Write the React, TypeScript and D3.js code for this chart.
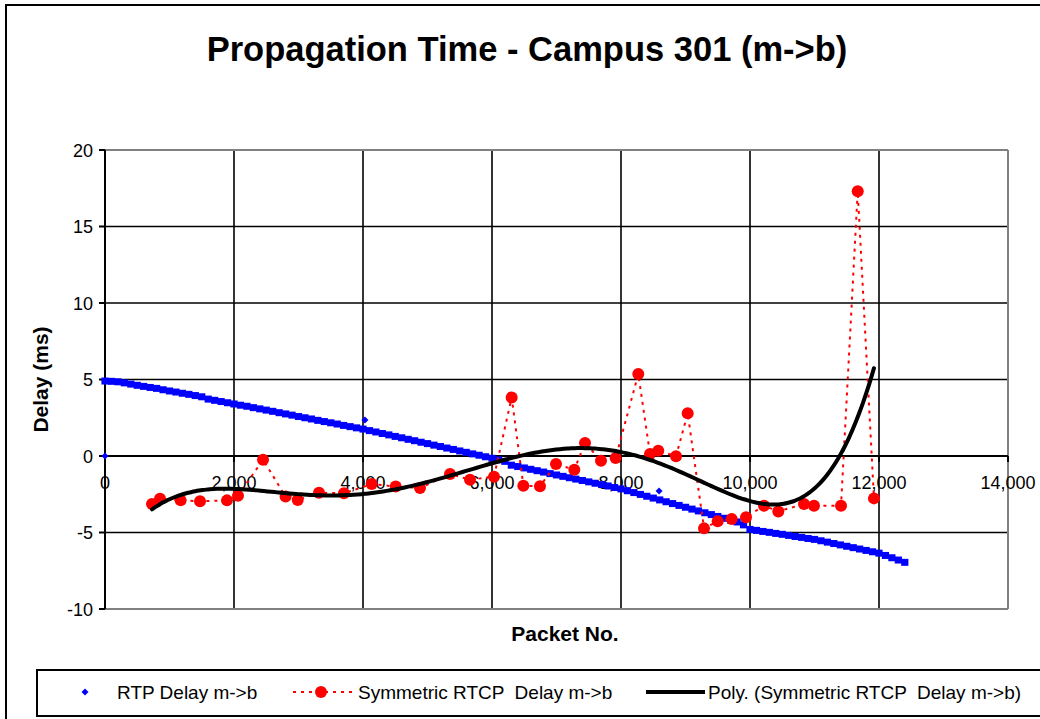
import React from 'react';
import * as d3 from 'd3';

// ---------- DATA ----------
const TITLE = 'Propagation Time - Campus 301 (m->b)';
const X_TICKS = [0, 2000, 4000, 6000, 8000, 10000, 12000, 14000];
const Y_TICKS = [-10, -5, 0, 5, 10, 15, 20];

// RTP delay, one reading every RTP_STEP packets starting at packet 0
const RTP_STEP = 100;
const rtpDelay = [
  4.9, 4.88, 4.85, 4.78, 4.7, 4.62, 4.55, 4.48, 4.42, 4.33,
  4.25, 4.18, 4.1, 4.03, 3.95, 3.87, 3.72, 3.64, 3.56, 3.48,
  3.4, 3.32, 3.25, 3.16, 3.08, 3.0, 2.92, 2.83, 2.75, 2.67,
  2.58, 2.5, 2.42, 2.33, 2.25, 2.17, 2.09, 2.0, 1.92, 1.84,
  1.76, 1.66, 1.57, 1.47, 1.38, 1.28, 1.19, 1.09, 1.0, 0.9,
  0.81, 0.71, 0.62, 0.52, 0.43, 0.33, 0.24, 0.14, 0.05, -0.05,
  -0.15, -0.25, -0.35, -0.6, -0.69, -0.78, -0.87, -0.96, -1.05, -1.15,
  -1.24, -1.33, -1.42, -1.51, -1.6, -1.69, -1.78, -1.87, -1.96, -2.06,
  -2.15, -2.27, -2.39, -2.51, -2.63, -2.75, -2.87, -2.99, -3.11, -3.23,
  -3.35, -3.47, -3.59, -3.71, -3.83, -3.95, -4.07, -4.19, -4.31, -4.5,
  -4.8, -4.86, -4.93, -4.99, -5.06, -5.12, -5.19, -5.26, -5.32, -5.39,
  -5.45, -5.54, -5.63, -5.72, -5.81, -5.9, -5.99, -6.08, -6.17, -6.26,
  -6.35, -6.5, -6.65, -6.8, -6.95,
];
// isolated RTP readings
const rtpOutlierPacket = [0, 4030, 8590];
const rtpOutlierDelay = [0, 2.35, -2.29];

// Symmetric RTCP delay
const rtcpPacket = [
  729, 853, 1173, 1473, 1891, 2062, 2450, 2800, 2988, 3318,
  3705, 4135, 4507, 4884, 5349, 5659, 6031, 6305, 6486, 6744,
  6992, 7276, 7442, 7690, 7917, 8268, 8450, 8578, 8853, 9034,
  9287, 9499, 9716, 9938, 10217, 10439, 10837, 10992, 11411, 11670,
  11922,
];
const rtcpDelay = [
  -3.14, -2.8, -2.9, -2.96, -2.9, -2.6, -0.24, -2.65, -2.88, -2.4,
  -2.44, -1.83, -2.0, -2.09, -1.18, -1.55, -1.35, 3.83, -1.94, -1.98,
  -0.52, -0.9, 0.85, -0.31, -0.13, 5.36, 0.13, 0.35, -0.02, 2.79,
  -4.73, -4.27, -4.12, -4.0, -3.25, -3.62, -3.14, -3.25, -3.25, 17.3,
  -2.77,
];
const POLY_ORDER = 6;

const LEGEND = [
  'RTP Delay m->b',
  'Symmetric RTCP  Delay m->b',
  'Poly. (Symmetric RTCP  Delay m->b)',
];

// ---------- helpers ----------
function polyfit(xs: number[], ys: number[], deg: number, c: number, s: number) {
  const n = deg + 1;
  const A: number[][] = Array.from({ length: n }, () => new Array(n).fill(0));
  const b: number[] = new Array(n).fill(0);
  xs.forEach((x, k) => {
    const t = (x - c) / s;
    const p: number[] = [];
    for (let i = 0; i < n; i++) p.push(Math.pow(t, i));
    for (let i = 0; i < n; i++) {
      b[i] += p[i] * ys[k];
      for (let j = 0; j < n; j++) A[i][j] += p[i] * p[j];
    }
  });
  for (let i = 0; i < n; i++) {
    let piv = i;
    for (let r = i + 1; r < n; r++) if (Math.abs(A[r][i]) > Math.abs(A[piv][i])) piv = r;
    [A[i], A[piv]] = [A[piv], A[i]];
    [b[i], b[piv]] = [b[piv], b[i]];
    for (let r = i + 1; r < n; r++) {
      const f = A[r][i] / A[i][i];
      for (let j = i; j < n; j++) A[r][j] -= f * A[i][j];
      b[r] -= f * b[i];
    }
  }
  const coef = new Array(n).fill(0);
  for (let i = n - 1; i >= 0; i--) {
    let sum = b[i];
    for (let j = i + 1; j < n; j++) sum -= A[i][j] * coef[j];
    coef[i] = sum / A[i][i];
  }
  return (x: number) => {
    const t = (x - c) / s;
    let v = 0;
    for (let i = n - 1; i >= 0; i--) v = v * t + coef[i];
    return v;
  };
}

const FONT = 'Arial, "Liberation Sans", Helvetica, sans-serif';

export default function App() {
  const W = 1040, H = 719;
  const left = 105, right = 1008, top = 150, bottom = 609;
  const x = d3.scaleLinear().domain([0, 14000]).range([left, right]);
  const y = d3.scaleLinear().domain([-10, 20]).range([bottom, top]);

  const rtp = rtpDelay.map((v, i) => [i * RTP_STEP, v] as [number, number]);
  const outliers = rtpOutlierPacket.map((p, i) => [p, rtpOutlierDelay[i]] as [number, number]);
  const rtcp = rtcpPacket.map((p, i) => [p, rtcpDelay[i]] as [number, number]);

  const fit = polyfit(rtcpPacket, rtcpDelay, POLY_ORDER, 6000, 6000);
  const x0 = d3.min(rtcpPacket)!, x1 = d3.max(rtcpPacket)!;
  const trend = d3.range(0, 201).map((k) => {
    const px = x0 + ((x1 - x0) * k) / 200;
    return [px, fit(px)] as [number, number];
  });

  const line = d3.line<[number, number]>().x((d) => x(d[0])).y((d) => y(d[1]));
  const trendLine = d3
    .line<[number, number]>()
    .x((d) => x(d[0]))
    .y((d) => y(d[1]))
    .curve(d3.curveMonotoneX);

  const diamond = (cx: number, cy: number, r: number) =>
    `M${cx},${cy - r}L${cx + r},${cy}L${cx},${cy + r}L${cx - r},${cy}Z`;

  return (
    <svg
      width={W}
      height={H}
      style={{ position: 'absolute', left: 0, top: 0, display: 'block', background: '#fff' }}
      fontFamily={FONT}
    >
      <rect x={0} y={0} width={W} height={H} fill="#fff" />
      {/* outer chart border */}
      <rect x={6} y={5} width={1060} height={740} fill="none" stroke="#000" strokeWidth={2} />

      {/* title */}
      <text x={527} y={61} textAnchor="middle" fontSize={34.5} fontWeight="bold">
        {TITLE}
      </text>

      {/* gridlines */}
      {Y_TICKS.filter((t) => t !== 0 && t !== 20 && t !== -10).map((t) => (
        <line key={'gy' + t} x1={left} x2={right} y1={y(t)} y2={y(t)} stroke="#000" strokeWidth={1.6} />
      ))}
      {X_TICKS.filter((t) => t !== 0 && t !== 14000).map((t) => (
        <line key={'gx' + t} x1={x(t)} x2={x(t)} y1={top} y2={bottom} stroke="#000" strokeWidth={1.6} />
      ))}
      {/* plot border (grey) */}
      <line x1={left} x2={right} y1={top} y2={top} stroke="#808080" strokeWidth={2} />
      <line x1={right} x2={right} y1={top} y2={bottom} stroke="#808080" strokeWidth={2} />
      <line x1={left} x2={right} y1={bottom} y2={bottom} stroke="#808080" strokeWidth={2} />

      {/* y axis */}
      <line x1={left} x2={left} y1={top} y2={bottom} stroke="#000" strokeWidth={2} />
      {Y_TICKS.map((t) => (
        <g key={'yt' + t}>
          <line x1={left - 6} x2={left} y1={y(t)} y2={y(t)} stroke="#000" strokeWidth={2} />
          <text x={93} y={y(t) + 6.5} textAnchor="end" fontSize={18}>
            {t}
          </text>
        </g>
      ))}
      {/* x axis at y = 0 */}
      <line x1={left} x2={right} y1={y(0)} y2={y(0)} stroke="#000" strokeWidth={2.2} />
      {X_TICKS.map((t) => (
        <g key={'xt' + t}>
          <line x1={x(t)} x2={x(t)} y1={y(0)} y2={y(0) + 6} stroke="#000" strokeWidth={2} />
          <text x={x(t)} y={y(0) + 33} textAnchor="middle" fontSize={18}>
            {d3.format(',')(t)}
          </text>
        </g>
      ))}

      {/* axis titles */}
      <text
        transform={`translate(48,${(top + bottom) / 2}) rotate(-90)`}
        textAnchor="middle"
        fontSize={21}
        fontWeight="bold"
      >
        Delay (ms)
      </text>
      <text x={565} y={641} textAnchor="middle" fontSize={21} fontWeight="bold">
        Packet No.
      </text>

      {/* RTP series */}
      <g fill="#0000ff">
        {rtp.map((d, i) => (
          <rect key={'r' + i} x={x(d[0]) - 3.6} y={y(d[1]) - 3.5} width={7.2} height={7} />
        ))}
        {outliers.map((d, i) => (
          <path key={'o' + i} d={diamond(x(d[0]), y(d[1]), 3.5)} />
        ))}
      </g>

      {/* RTCP series */}
      <path d={line(rtcp)!} fill="none" stroke="#ff0000" strokeWidth={2} strokeDasharray="3,5" />
      <g fill="#ff0000">
        {rtcp.map((d, i) => (
          <circle key={'c' + i} cx={x(d[0])} cy={y(d[1])} r={6} />
        ))}
      </g>

      {/* polynomial trend */}
      <path d={trendLine(trend)!} fill="none" stroke="#000" strokeWidth={4} strokeLinecap="round" />

      {/* legend */}
      <rect x={37} y={670} width={1020} height={46} fill="#fff" stroke="#000" strokeWidth={2} />
      <path d={diamond(85, 692, 3.5)} fill="#0000ff" />
      <text x={117} y={699} fontSize={19}>
        {LEGEND[0]}
      </text>
      <line x1={293} x2={352} y1={692} y2={692} stroke="#ff0000" strokeWidth={2} strokeDasharray="3,5" />
      <circle cx={321} cy={692} r={6} fill="#ff0000" />
      <text x={358} y={699} fontSize={19} style={{ whiteSpace: 'pre' }}>
        {LEGEND[1]}
      </text>
      <line x1={646} x2={705} y1={692} y2={692} stroke="#000" strokeWidth={4} />
      <text x={708} y={699} fontSize={19} style={{ whiteSpace: 'pre' }}>
        {LEGEND[2]}
      </text>
    </svg>
  );
}
